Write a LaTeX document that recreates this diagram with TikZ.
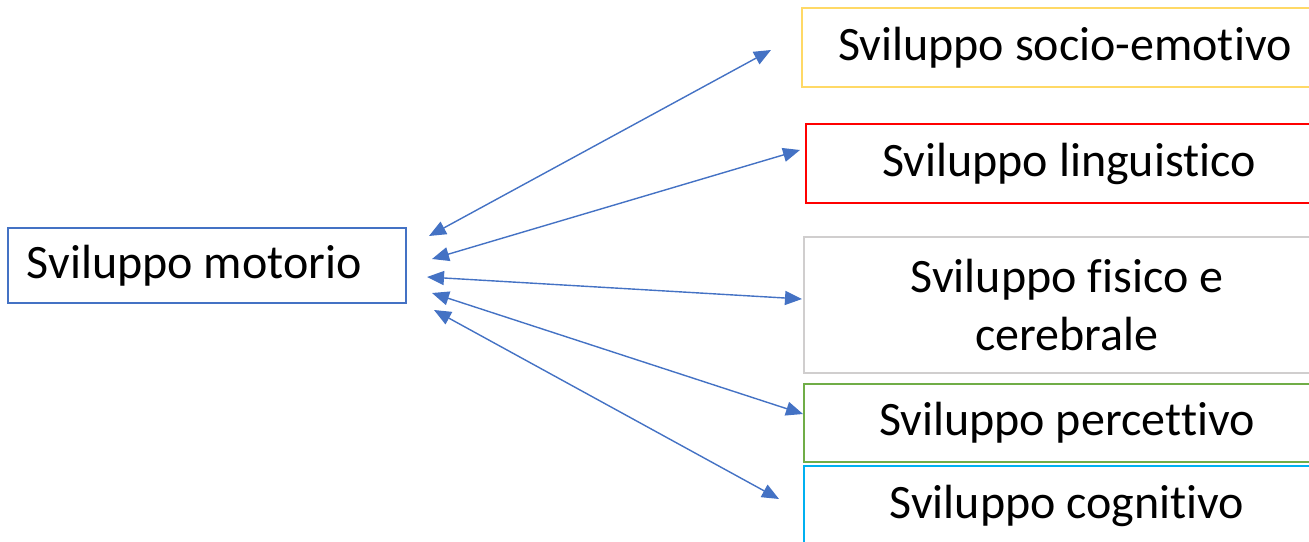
\documentclass[tikz,border=0pt]{standalone}
\usepackage{fontspec}
\setmainfont{Carlito}[RawFeature={-liga;-clig;-dlig;-calt}]
\usetikzlibrary{arrows.meta}
\definecolor{cblue}{HTML}{4472C4}
\definecolor{cyellow}{HTML}{FFD966}
\definecolor{cred}{HTML}{FF0000}
\definecolor{cgray}{HTML}{D0CECE}
\definecolor{cgreen}{HTML}{70AD47}
\definecolor{ccyan}{HTML}{00B0F0}
\tikzset{
  boxstyle/.style={draw, line width=2pt, rectangle, inner sep=0pt, font=\fontsize{48}{58}\selectfont, align=center},
  conn/.style={cblue, line width=1.4pt, {Triangle[length=17pt,width=14pt]}-{Triangle[length=17pt,width=14pt]}}
}
\begin{document}
\begin{tikzpicture}[x=1pt,y=-1pt]
\useasboundingbox (0,0) rectangle (1309,541);
\clip (0,0) rectangle (1309,541);
\node[boxstyle, draw=cblue, minimum width=398pt, minimum height=75pt, text width=360pt, align=flush left] (mot) at (207,265.5) {Sviluppo motorio};
\node[boxstyle, draw=cyellow, minimum width=526pt, minimum height=79pt] (soc) at (1065,47.5) {Sviluppo socio-emotivo};
\node[boxstyle, draw=cred, minimum width=526pt, minimum height=79pt] (lin) at (1069,163.5) {Sviluppo linguistico};
\node[boxstyle, draw=cgray, minimum width=526pt, minimum height=136pt] (fis) at (1067,305) {Sviluppo fisico e\\cerebrale};
\node[boxstyle, draw=cgreen, minimum width=526pt, minimum height=78pt] (per) at (1067,423) {Sviluppo percet\kern0pt t\kern0pt ivo};
\node[boxstyle, draw=ccyan, minimum width=526pt, minimum height=80pt] (cog) at (1067,506) {Sviluppo cognit\kern0pt ivo};
\coordinate (m1) at (429,236);
\coordinate (m2) at (432,259);
\coordinate (m3) at (427,277);
\coordinate (m4) at (432,293);
\coordinate (m5) at (434,310);
\coordinate (r1) at (771,50);
\coordinate (r2) at (800,150);
\coordinate (r3) at (802,299);
\coordinate (r4) at (803,414);
\coordinate (r5) at (779,499);
\draw[conn] (m1) -- (r1);
\draw[conn] (m2) -- (r2);
\draw[conn] (m3) -- (r3);
\draw[conn] (m4) -- (r4);
\draw[conn] (m5) -- (r5);
\end{tikzpicture}
\end{document}
